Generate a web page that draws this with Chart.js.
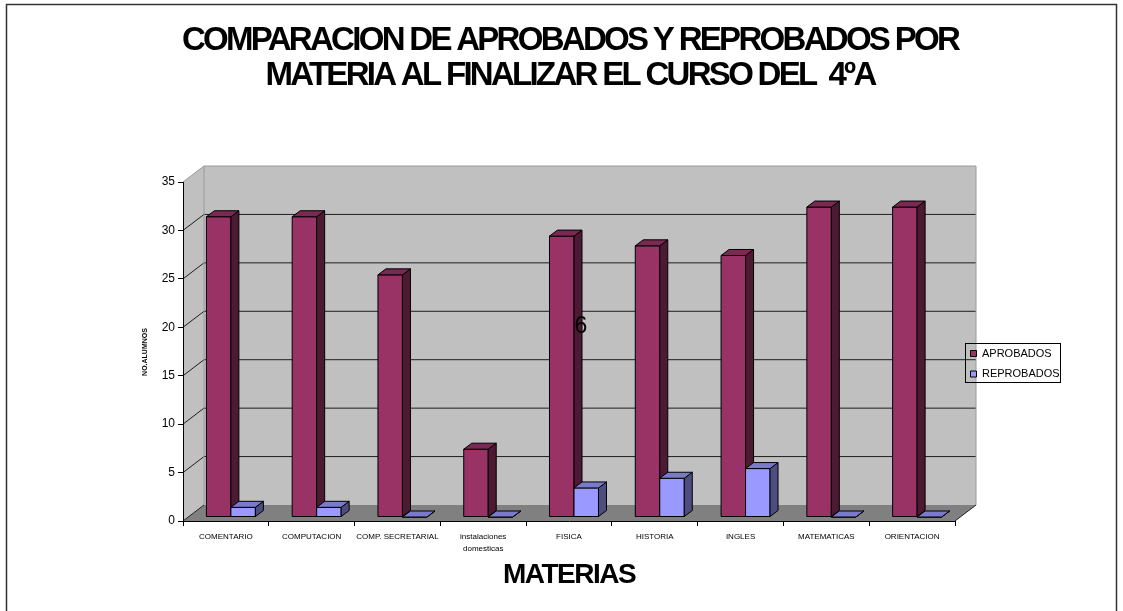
<!DOCTYPE html>
<html><head><meta charset="utf-8">
<script src="https://cdn.jsdelivr.net/npm/chart.js@4.4.1/dist/chart.umd.min.js"></script>
<style>html,body{margin:0;padding:0;background:#fff;} canvas{display:block;}</style>
</head><body>
<canvas id="c" width="1123" height="611"></canvas>
<script>
// ---- data ----
const titleLines = ['COMPARACION DE APROBADOS Y REPROBADOS POR', 'MATERIA AL FINALIZAR EL CURSO DEL  4\u00baA'];
const xAxisTitle = 'MATERIAS';
const yAxisTitle = 'NO.ALUMNOS';
const categories = ['COMENTARIO', 'COMPUTACION', 'COMP. SECRETARIAL', ['instalaciones', 'domesticas'], 'FISICA', 'HISTORIA', 'INGLES', 'MATEMATICAS', 'ORIENTACION'];
const aprobados = [31, 31, 25, 7, 29, 28, 27, 32, 32];
const reprobados = [1, 1, 0, 0, 3, 4, 5, 0, 0];
const seriesNames = ['APROBADOS', 'REPROBADOS'];
const yTicks = [0, 5, 10, 15, 20, 25, 30, 35];
const strayLabel = '6';

// ---- style ----
const FONT = "'Liberation Sans', Arial, sans-serif";
const WALL = { dx: 21, dy: -16 };
const BAR_SHIFT = { dx: 5, dy: -4 };
const DEPTH = { dx: 8, dy: -6 };
const faces = [
  { front: '#993366', side: '#4d1a33', top: '#7a2952' },
  { front: '#9999ff', side: '#4d4d80', top: '#7a7acc' }
];

const box3d = {
  id: 'box3d',
  afterLayout(chart) {
    const lg = chart.legend;
    if (!lg) return;
    const w = lg.width, h = lg.height;
    lg.left = 961; lg.right = lg.left + w;
    lg.top = 338.5; lg.bottom = lg.top + h;
  },
  beforeDraw(chart) {
    const ctx = chart.ctx, { left, right, top, bottom } = chart.chartArea, ys = chart.scales.y;
    ctx.save();
    ctx.fillStyle = '#fff'; ctx.fillRect(0, 0, chart.width, chart.height);
    const bt = top + WALL.dy, bb = bottom + WALL.dy, bl = left + WALL.dx, br = right + WALL.dx;
    ctx.fillStyle = '#c0c0c0';
    ctx.fillRect(bl, bt, br - bl, bb - bt);
    ctx.beginPath(); ctx.moveTo(left, top); ctx.lineTo(bl, bt); ctx.lineTo(bl, bb); ctx.lineTo(left, bottom); ctx.closePath(); ctx.fill();
    ctx.fillStyle = '#808080';
    ctx.beginPath(); ctx.moveTo(left, bottom); ctx.lineTo(bl, bb); ctx.lineTo(br, bb); ctx.lineTo(right, bottom); ctx.closePath(); ctx.fill();
    // grid lines on walls
    ctx.strokeStyle = '#1e1e1e'; ctx.lineWidth = 1;
    yTicks.forEach(v => {
      if (v === 0 || v === ys.max) return;
      const py = ys.getPixelForValue(v);
      ctx.beginPath(); ctx.moveTo(left, py); ctx.lineTo(bl, py + WALL.dy); ctx.lineTo(br, py + WALL.dy); ctx.stroke();
    });
    // wall edges
    ctx.strokeStyle = '#9a9a9a';
    ctx.beginPath(); ctx.moveTo(left, top); ctx.lineTo(bl, bt); ctx.lineTo(br, bt); ctx.lineTo(br, bb); ctx.stroke();
    ctx.beginPath(); ctx.moveTo(bl, bt); ctx.lineTo(bl, bb); ctx.stroke();
    ctx.strokeStyle = '#222';
    ctx.beginPath(); ctx.moveTo(left, bottom); ctx.lineTo(bl, bb); ctx.stroke();
    ctx.beginPath(); ctx.moveTo(right, bottom); ctx.lineTo(br, bb); ctx.stroke();
    ctx.restore();
  },
  beforeDatasetsDraw(chart) {
    const ctx = chart.ctx;
    ctx.save();
    ctx.lineWidth = 1; ctx.strokeStyle = '#000'; ctx.lineJoin = 'round';
    const n = chart.data.labels.length;
    for (let i = 0; i < n; i++) {
      chart.data.datasets.forEach((ds, d) => {
        const el = chart.getDatasetMeta(d).data[i];
        const { x, y, base, width } = el.getProps(['x', 'y', 'base', 'width'], true);
        const l = x - width / 2 + BAR_SHIFT.dx, r = x + width / 2 + BAR_SHIFT.dx;
        const t = y + BAR_SHIFT.dy, b = base + BAR_SHIFT.dy;
        const f = faces[d];
        // front
        ctx.fillStyle = f.front;
        ctx.beginPath(); ctx.rect(l, t, r - l, b - t); ctx.fill(); ctx.stroke();
        // side
        ctx.fillStyle = f.side;
        ctx.beginPath(); ctx.moveTo(r, t); ctx.lineTo(r + DEPTH.dx, t + DEPTH.dy); ctx.lineTo(r + DEPTH.dx, b + DEPTH.dy); ctx.lineTo(r, b); ctx.closePath(); ctx.fill(); ctx.stroke();
        // top
        ctx.fillStyle = f.top;
        ctx.beginPath(); ctx.moveTo(l, t); ctx.lineTo(l + DEPTH.dx, t + DEPTH.dy); ctx.lineTo(r + DEPTH.dx, t + DEPTH.dy); ctx.lineTo(r, t); ctx.closePath(); ctx.fill(); ctx.stroke();
      });
    }
    ctx.restore();
    return false;
  },
  afterDraw(chart) {
    const ctx = chart.ctx;
    ctx.save();
    // legend frame
    const lg = chart.legend;
    ctx.strokeStyle = '#000'; ctx.lineWidth = 1;
    ctx.strokeRect(Math.round(lg.left + 4) + 0.5, Math.round(lg.top + 4) + 0.5, 95, 39);
    ctx.fillStyle = '#000';
    ctx.textAlign = 'center'; ctx.textBaseline = 'middle';
    // title
    ctx.font = 'bold 33px ' + FONT;
    ctx.letterSpacing = '-2.7px';
    ctx.fillText(titleLines[0], 570, 41);
    ctx.fillText(titleLines[1], 570, 76);
    // x axis title
    ctx.font = 'bold 28px ' + FONT;
    ctx.letterSpacing = '-1.5px';
    ctx.fillText(xAxisTitle, (chart.chartArea.left + chart.chartArea.right) / 2, 575);
    // y axis title
    ctx.letterSpacing = '0px';
    ctx.save();
    ctx.translate(145, 352); ctx.rotate(-Math.PI / 2);
    ctx.font = 'bold 7px ' + FONT;
    ctx.fillText(yAxisTitle, 0, 0);
    ctx.restore();
    // stray label
    ctx.font = '23px ' + FONT;
    ctx.fillText(strayLabel, 581, 327);
    // outer frame
    ctx.strokeStyle = '#333'; ctx.lineWidth = 1.5;
    ctx.beginPath(); ctx.moveTo(6.5, 700); ctx.lineTo(6.5, 4.5); ctx.lineTo(1116.5, 4.5); ctx.lineTo(1116.5, 700); ctx.stroke();
    ctx.restore();
  }
};

new Chart(document.getElementById('c'), {
  type: 'bar',
  data: {
    labels: categories,
    datasets: [
      { label: seriesNames[0], data: aprobados, backgroundColor: faces[0].front, borderColor: '#000', borderWidth: 1 },
      { label: seriesNames[1], data: reprobados, backgroundColor: faces[1].front, borderColor: '#000', borderWidth: 1 }
    ]
  },
  options: {
    responsive: false,
    animation: false,
    devicePixelRatio: 1,
    categoryPercentage: 0.571,
    barPercentage: 1.0,
    layout: { padding: { left: 0, top: 182, right: 68, bottom: 0 } },
    plugins: {
      title: { display: false },
      tooltip: { enabled: false },
      legend: {
        display: true,
        position: 'right',
        align: 'start',
        maxWidth: 100,
        labels: { boxWidth: 6, boxHeight: 6, padding: 9.5, color: '#000', font: { family: FONT, size: 11 } }
      }
    },
    scales: {
      x: {
        afterFit: s => { s.height = 90; },
        grid: { offset: true, drawOnChartArea: false, drawTicks: true, tickLength: 5, color: '#000' },
        border: { display: true, color: '#000', width: 1 },
        ticks: { color: '#000', autoSkip: false, maxRotation: 0, minRotation: 0, padding: 4, font: { family: FONT, size: 8, lineHeight: 1.6 } }
      },
      y: {
        min: 0, max: 35,
        afterFit: s => { s.width = 183; },
        afterBuildTicks: s => { s.ticks = yTicks.map(v => ({ value: v })); },
        grid: { drawOnChartArea: false, drawTicks: true, tickLength: 5, color: '#000' },
        border: { display: true, color: '#000', width: 1 },
        ticks: { color: '#000', padding: 3, font: { family: FONT, size: 12 } }
      }
    }
  },
  plugins: [box3d]
});
</script>
</body></html>
